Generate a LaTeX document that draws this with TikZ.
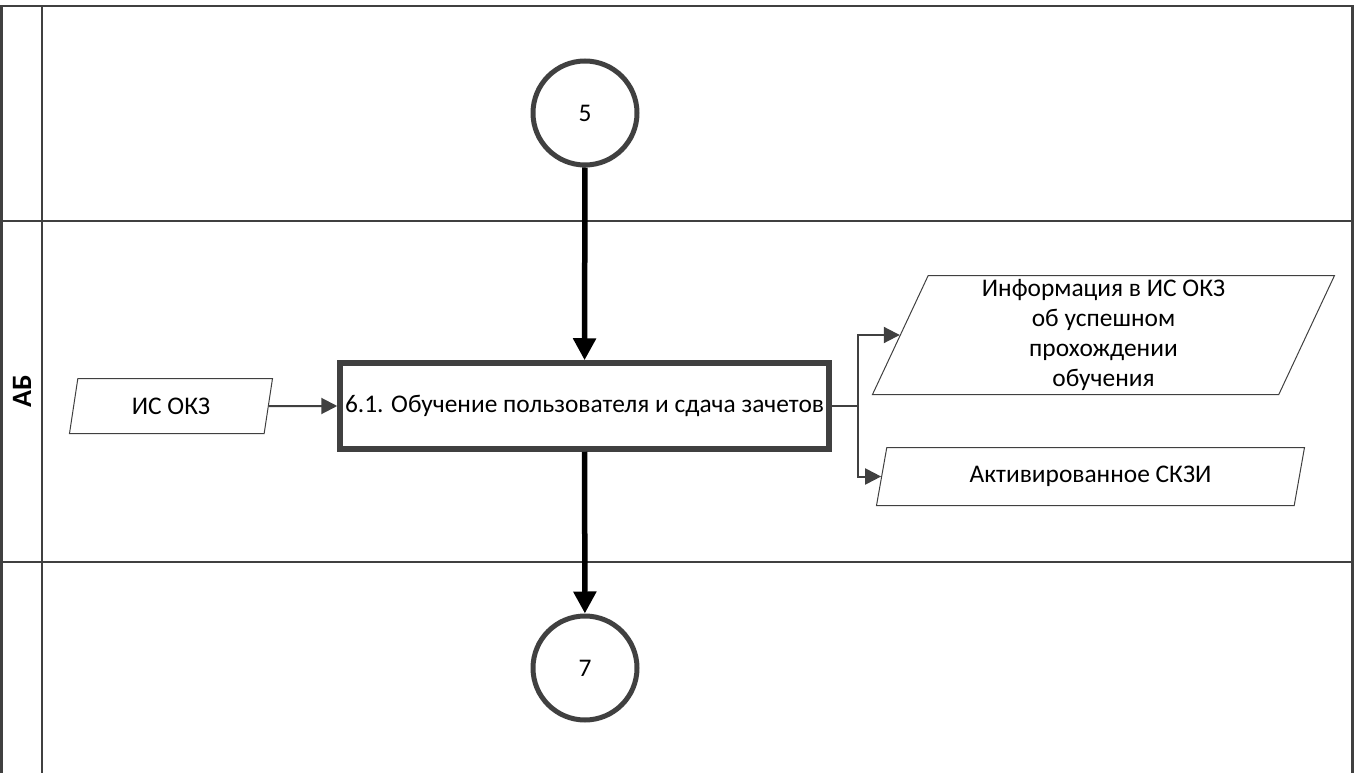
\documentclass[tikz,border=0pt]{standalone}
\usepackage{fontspec}
\setmainfont{Carlito}
\usetikzlibrary{arrows.meta}
\usetikzlibrary{shapes.geometric}
\definecolor{dgray}{HTML}{404040}

\begin{document}
\begin{tikzpicture}[x=1pt,y=-1pt,
	lane/.style = {draw=dgray, line width=2.3pt},
	conn/.style = {draw=dgray, circle, line width=5pt, minimum size=104pt, inner sep=0pt},
	proc/.style = {draw=dgray, rectangle, line width=5.5pt, minimum width=489pt, minimum height=86pt, inner sep=1pt},
	data/.style = {draw=dgray, trapezium, trapezium left angle=63.4, trapezium right angle=116.6, trapezium stretches body, line width=1pt, inner sep=0pt, align=center},
	flow/.style = {-{Triangle[length=22pt,width=22pt]}, line width=5.5pt, black},
	link/.style = {-{Triangle[length=16pt,width=16pt]}, line width=2pt, dgray}]
	\useasboundingbox (0,0) rectangle (1361,773);
	% swimlanes
	\draw [lane] (0,6) -- (1354,6);
	\draw [lane] (1.5,6) -- (1.5,773);
	\draw [lane] (1352.5,6) -- (1352.5,773);
	\draw [lane] (0,221) -- (1354,221);
	\draw [lane] (0,562) -- (1354,562);
	\draw [dgray, line width=2pt] (41.5,6) -- (41.5,773);
	\begin{scope}[every node/.style={font=\fontsize{25.4}{30}\selectfont}]
		\node[rotate=90, font=\bfseries\fontsize{28}{30}\selectfont] (lane) at (22,391) {АБ};
		\node[conn] (c5) at (585,113) {5};
		\node[conn] (c7) at (585,668) {7};
		\node[proc] (p61) at (584.5,406) {6.1. Обучение пользователя и сдача зачетов};
		\node[data, minimum width=203pt, minimum height=55pt] (isokz) at (171,406) {ИС ОКЗ};
		\node[data, minimum width=462pt, minimum height=119pt] (info) at (1103.5,335) {Информация в ИС ОКЗ\\об успешном\\прохождении\\обучения};
		\node[data, minimum width=428pt, minimum height=58pt] (skzi) at (1090.5,476.5) {Активированное СКЗИ};
	\end{scope}
	\coordinate (split) at (858,406);
	\draw [flow] (c5) -- (p61);
	\draw [flow] (p61) -- (c7);
	\draw [link] (isokz) -- (p61);
	\draw [dgray, line width=2pt] (p61) -- (split);
	\draw [link] (split) |- (info);
	\draw [link] (split) |- (skzi);
\end{tikzpicture}
\end{document}
